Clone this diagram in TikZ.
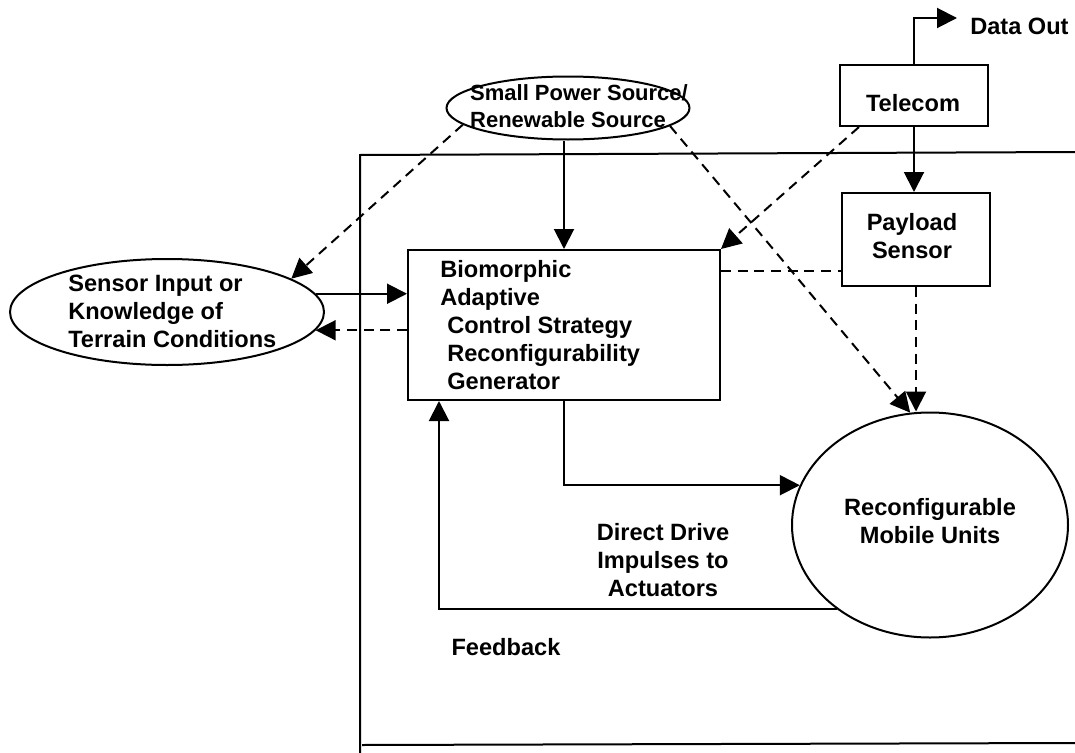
\documentclass[tikz,border=0pt]{standalone}
\usepackage{fontspec}
\setmainfont{Liberation Sans}
\usetikzlibrary{arrows.meta,shapes.geometric,calc}
\newdimen\px \px=0.75pt
\begin{document}
\begin{tikzpicture}[x=0.75pt,y=-0.75pt,
  every node/.style={font=\bfseries\fontsize{17.7}{21}\selectfont, inner sep=0pt},
  ln/.style={line width=1.5pt},
  arr/.style={ln,-{Triangle[length=15pt,width=15pt]}},
  dsh/.style={dash pattern=on 7.5pt off 5pt},
  rbox/.style={draw, line width=1.5pt, rectangle},
  ell/.style={draw, line width=1.5pt, ellipse},
  lbl/.style={align=center},
]
\useasboundingbox (0,0) rectangle (1075,753);
% frame
\draw[ln] (1075,152) -- (360,155) -- (360,753);
\draw[ln] (362,745) -- (1075,743);

% shapes
\node[ell, minimum width=314\px, minimum height=106\px] (sensor) at (167,312) {};
\node[ell, minimum width=243\px, minimum height=63\px] (power) at (568,108) {};
\node[rbox, minimum width=148\px, minimum height=61\px] (telecom) at (914,95.5) {};
\node[rbox, minimum width=148\px, minimum height=93\px] (payload) at (916,239.5) {};
\node[rbox, minimum width=312\px, minimum height=150\px] (bio) at (564,325) {};
\node[ell, minimum width=276\px, minimum height=225\px] (mobile) at (930,525) {};
\coordinate (dout) at (957,18);

% texts
\node[align=left, anchor=west] (sensortxt) at (68,311) {Sensor Input or\\Knowledge of\\Terrain Conditions};
\node[align=left, font=\bfseries\fontsize{16.5}{20.25}\selectfont] (powertxt) at (579,106) {Small Power Source/\\Renewable Source};
\node (telecomtxt) at (913,103) {Telecom};
\node[lbl] (payloadtxt) at (912,236) {Payload\\Sensor};
\node[anchor=west] (douttxt) at (970,26) {Data Out};
\node[align=left, anchor=north west] (biotxt) at (440,260) {Biomorphic\\Adaptive\\\hspace{7\px}Control Strategy\\\hspace{7\px}Reconfigurability\\\hspace{7\px}Generator};
\node[lbl] (mobiletxt) at (930,521) {Reconfigurable\\Mobile Units};
\node[lbl] (drivetxt) at (663,560) {Direct Drive\\Impulses to\\Actuators};
\node (fbtxt) at (506,647) {Feedback};

% connectors
\draw[arr] (power.south -| bio.north) -- (bio.north);
\draw[arr,dsh] (power.189) -- (sensor.15);
\draw[arr,dsh] (power.350) -- (mobile.100);
\draw[arr,dsh] ([xshift=20\px]telecom.south west) -- (bio.north east);
\draw[arr] (telecom.south) -- (telecom.south |- payload.north);
\draw[arr] (telecom.north) |- (dout);
\draw[ln,dsh] ($(bio.north east)+(0,22)$) -- ($(payload.north west)+(0,79)$);
\draw[arr,dsh] (payload.south) -- (payload.south |- mobile.north);
\draw[arr] (sensor.7) -- (sensor.7 -| bio.west);
\draw[arr,dsh] (sensor.-7 -| bio.west) -- (sensor.-7);
\draw[arr] (bio.south) |- (mobile.163);
\draw[arr] (mobile.222) -| ($(bio.south west)+(32,0)$);
\end{tikzpicture}
\end{document}
